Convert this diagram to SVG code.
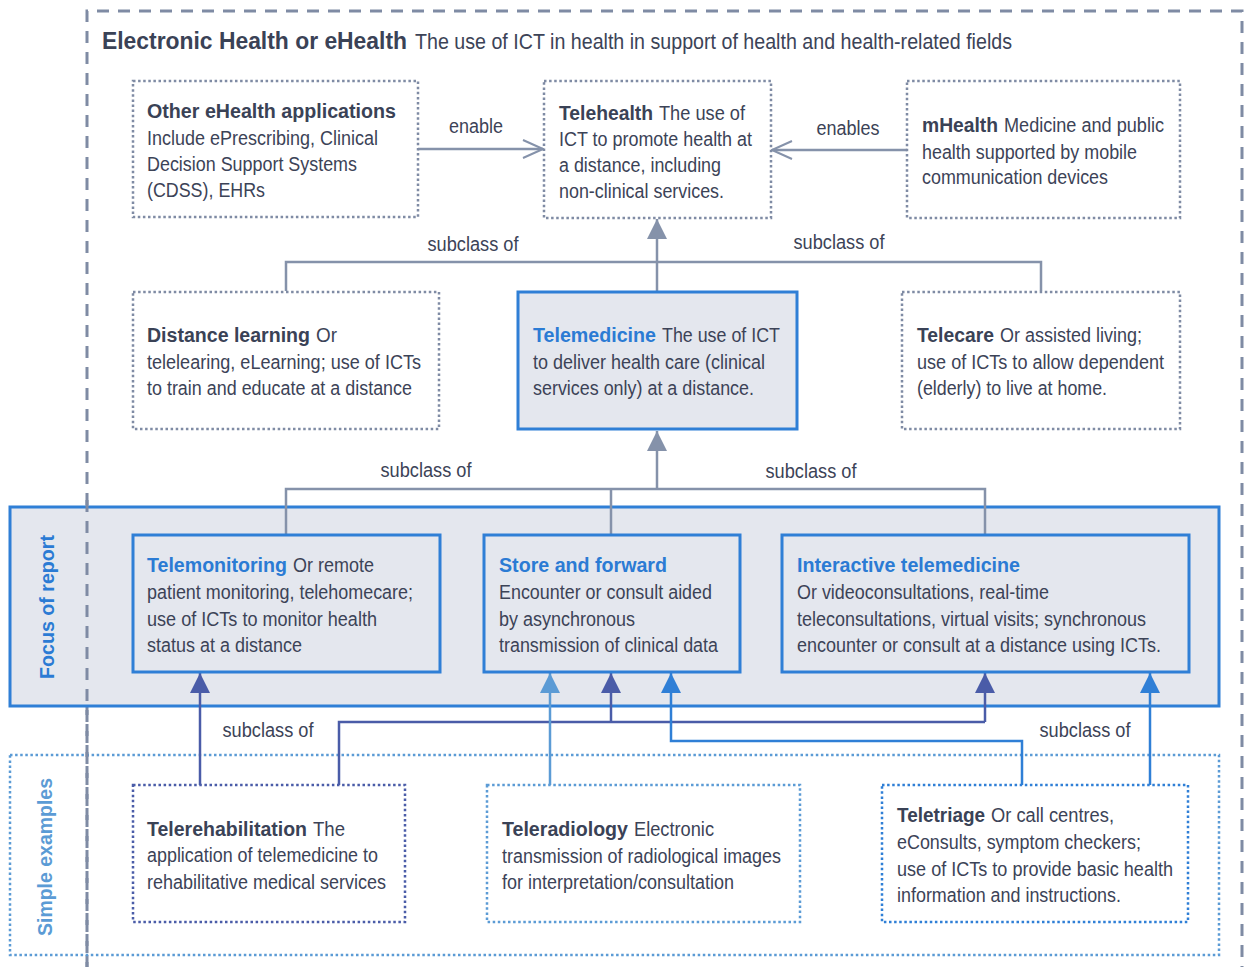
<svg xmlns="http://www.w3.org/2000/svg" width="1245" height="967" viewBox="0 0 1245 967">
<defs>
<style>
text{font-family:"Liberation Sans",Arial,sans-serif;font-size:20px;fill:#3c4357;}
.b{font-weight:bold;fill:#3a4256;}
.bb{font-weight:bold;fill:#2b7bd4;}
.lbl{font-size:20px;}
.dot{fill:#fff;stroke:#7f8ba4;stroke-width:2.5;stroke-dasharray:2.5 2.6;}
.solid{fill:#e4e7ee;stroke:#2f7fd6;stroke-width:3;}
.c{fill:none;stroke-width:2.5;}
.g{stroke:#8592aa;}
.db{stroke:#4a5ca8;}
.lb{stroke:#5b9bd5;}
.bl{stroke:#2f7fd6;}
</style>
<marker id="tg" viewBox="0 0 20 20" refX="20" refY="10" markerWidth="20" markerHeight="20" markerUnits="userSpaceOnUse" orient="auto"><path d="M0,0 L20,10 L0,20 Z" fill="#8592aa"/></marker>
<marker id="tdb" viewBox="0 0 20 20" refX="20" refY="10" markerWidth="20" markerHeight="20" markerUnits="userSpaceOnUse" orient="auto"><path d="M0,0 L20,10 L0,20 Z" fill="#4a5ca8"/></marker>
<marker id="tlb" viewBox="0 0 20 20" refX="20" refY="10" markerWidth="20" markerHeight="20" markerUnits="userSpaceOnUse" orient="auto"><path d="M0,0 L20,10 L0,20 Z" fill="#5b9bd5"/></marker>
<marker id="tbl" viewBox="0 0 20 20" refX="20" refY="10" markerWidth="20" markerHeight="20" markerUnits="userSpaceOnUse" orient="auto"><path d="M0,0 L20,10 L0,20 Z" fill="#2f7fd6"/></marker>
<marker id="ch" viewBox="0 0 24 24" refX="22" refY="12" markerWidth="24" markerHeight="24" markerUnits="userSpaceOnUse" orient="auto"><path d="M2,3 L22,12 L2,21" fill="none" stroke="#8592aa" stroke-width="2"/></marker>
</defs>
<rect width="1245" height="967" fill="#fff"/>

<!-- outer eHealth frame -->
<g id="ehealth-frame">
<path d="M87,967 V11 H1242 V967" fill="none" stroke="#7f8ba4" stroke-width="3" stroke-dasharray="12 9"/>
<text x="102" y="49" class="b" style="font-size:24px" textLength="305" lengthAdjust="spacingAndGlyphs">Electronic Health or eHealth</text>
<text x="415" y="49" style="font-size:22px" textLength="597" lengthAdjust="spacingAndGlyphs">The use of ICT in health in support of health and health-related fields</text>
</g>

<!-- bands -->
<g id="focus-band">
<rect x="10" y="507" width="1209" height="199" class="solid"/>
<text transform="translate(54,607) rotate(-90)" text-anchor="middle" class="bb" textLength="144" lengthAdjust="spacingAndGlyphs">Focus of report</text>
</g>
<g id="examples-band">
<rect x="10" y="755" width="1209" height="200" fill="none" stroke="#5b9bd5" stroke-width="2.5" stroke-dasharray="2.5 2.6"/>
<text transform="translate(52,857) rotate(-90)" text-anchor="middle" class="bb" style="fill:#5b9bd5" textLength="158" lengthAdjust="spacingAndGlyphs">Simple examples</text>
</g>
<path d="M87,500 V967" fill="none" stroke="#7f8ba4" stroke-width="3" stroke-dasharray="12 9"/>

<!-- connectors -->
<g id="connectors">
<path class="c g" d="M418,149 H543" marker-end="url(#ch)"/>
<path class="c g" d="M907,150 H772" marker-end="url(#ch)"/>
<text x="476" y="133" text-anchor="middle" class="lbl" textLength="54" lengthAdjust="spacingAndGlyphs">enable</text>
<text x="848" y="135" text-anchor="middle" class="lbl" textLength="63" lengthAdjust="spacingAndGlyphs">enables</text>

<path class="c g" d="M657,291 V219" marker-end="url(#tg)"/>
<path class="c g" d="M286,291 V262 H1041 V291"/>
<text x="473" y="251" text-anchor="middle" class="lbl" textLength="91" lengthAdjust="spacingAndGlyphs">subclass of</text>
<text x="839" y="249" text-anchor="middle" class="lbl" textLength="91" lengthAdjust="spacingAndGlyphs">subclass of</text>

<path class="c g" d="M657,489 V431" marker-end="url(#tg)"/>
<path class="c g" d="M286,535 V489 H985 V535 M611,489 V535"/>
<text x="426" y="477" text-anchor="middle" class="lbl" textLength="91" lengthAdjust="spacingAndGlyphs">subclass of</text>
<text x="811" y="478" text-anchor="middle" class="lbl" textLength="91" lengthAdjust="spacingAndGlyphs">subclass of</text>

<path class="c db" d="M200,785 V673" marker-end="url(#tdb)"/>
<path class="c db" d="M339,785 V722 H985"/>
<path class="c db" d="M611,722 V673" marker-end="url(#tdb)"/>
<path class="c db" d="M985,722 V673" marker-end="url(#tdb)"/>
<path class="c lb" d="M550,785 V673" marker-end="url(#tlb)"/>
<path class="c bl" d="M1022,785 V741 H671 V673" marker-end="url(#tbl)"/>
<path class="c bl" d="M1150,785 V673" marker-end="url(#tbl)"/>
<text x="268" y="737" text-anchor="middle" class="lbl" textLength="91" lengthAdjust="spacingAndGlyphs">subclass of</text>
<text x="1085" y="737" text-anchor="middle" class="lbl" textLength="91" lengthAdjust="spacingAndGlyphs">subclass of</text>
</g>

<!-- row 1 -->
<g id="other-ehealth">
<rect x="133" y="81" width="285" height="136" class="dot"/>
<text x="147" y="118" class="b" textLength="249" lengthAdjust="spacingAndGlyphs">Other eHealth applications</text>
<text x="147" y="145" textLength="231" lengthAdjust="spacingAndGlyphs">Include ePrescribing, Clinical</text>
<text x="147" y="171" textLength="210" lengthAdjust="spacingAndGlyphs">Decision Support Systems</text>
<text x="147" y="197" textLength="118" lengthAdjust="spacingAndGlyphs">(CDSS), EHRs</text>
</g>
<g id="telehealth">
<rect x="544" y="81" width="227" height="137" class="dot"/>
<text x="559" y="120" class="b" textLength="94" lengthAdjust="spacingAndGlyphs">Telehealth</text>
<text x="659" y="120" textLength="86" lengthAdjust="spacingAndGlyphs">The use of</text>
<text x="559" y="146" textLength="193" lengthAdjust="spacingAndGlyphs">ICT to promote health at</text>
<text x="559" y="172" textLength="162" lengthAdjust="spacingAndGlyphs">a distance, including</text>
<text x="559" y="198" textLength="165" lengthAdjust="spacingAndGlyphs">non-clinical services.</text>
</g>
<g id="mhealth">
<rect x="907" y="81" width="273" height="137" class="dot"/>
<text x="922" y="132" class="b" textLength="76" lengthAdjust="spacingAndGlyphs">mHealth</text>
<text x="1004" y="132" textLength="160" lengthAdjust="spacingAndGlyphs">Medicine and public</text>
<text x="922" y="159" textLength="215" lengthAdjust="spacingAndGlyphs">health supported by mobile</text>
<text x="922" y="184" textLength="186" lengthAdjust="spacingAndGlyphs">communication devices</text>
</g>

<!-- row 2 -->
<g id="distance-learning">
<rect x="133" y="292" width="306" height="137" class="dot"/>
<text x="147" y="342" class="b" textLength="163" lengthAdjust="spacingAndGlyphs">Distance learning</text>
<text x="316" y="342" textLength="21" lengthAdjust="spacingAndGlyphs">Or</text>
<text x="147" y="369" textLength="274" lengthAdjust="spacingAndGlyphs">telelearing, eLearning; use of ICTs</text>
<text x="147" y="395" textLength="265" lengthAdjust="spacingAndGlyphs">to train and educate at a distance</text>
</g>
<g id="telemedicine">
<rect x="518" y="292" width="279" height="137" class="solid"/>
<text x="533" y="342" class="bb" textLength="123" lengthAdjust="spacingAndGlyphs">Telemedicine</text>
<text x="662" y="342" textLength="118" lengthAdjust="spacingAndGlyphs">The use of ICT</text>
<text x="533" y="369" textLength="232" lengthAdjust="spacingAndGlyphs">to deliver health care (clinical</text>
<text x="533" y="395" textLength="221" lengthAdjust="spacingAndGlyphs">services only) at a distance.</text>
</g>
<g id="telecare">
<rect x="902" y="292" width="278" height="137" class="dot"/>
<text x="917" y="342" class="b" textLength="77" lengthAdjust="spacingAndGlyphs">Telecare</text>
<text x="1000" y="342" textLength="142" lengthAdjust="spacingAndGlyphs">Or assisted living;</text>
<text x="917" y="369" textLength="247" lengthAdjust="spacingAndGlyphs">use of ICTs to allow dependent</text>
<text x="917" y="395" textLength="190" lengthAdjust="spacingAndGlyphs">(elderly) to live at home.</text>
</g>

<!-- row 3: focus -->
<g id="telemonitoring">
<rect x="133" y="535" width="307" height="137" class="solid"/>
<text x="147" y="572" class="bb" textLength="140" lengthAdjust="spacingAndGlyphs">Telemonitoring</text>
<text x="293" y="572" textLength="81" lengthAdjust="spacingAndGlyphs">Or remote</text>
<text x="147" y="599" textLength="266" lengthAdjust="spacingAndGlyphs">patient monitoring, telehomecare;</text>
<text x="147" y="626" textLength="230" lengthAdjust="spacingAndGlyphs">use of ICTs to monitor health</text>
<text x="147" y="652" textLength="155" lengthAdjust="spacingAndGlyphs">status at a distance</text>
</g>
<g id="store-and-forward">
<rect x="484" y="535" width="256" height="137" class="solid"/>
<text x="499" y="572" class="bb" textLength="168" lengthAdjust="spacingAndGlyphs">Store and forward</text>
<text x="499" y="599" textLength="213" lengthAdjust="spacingAndGlyphs">Encounter or consult aided</text>
<text x="499" y="626" textLength="136" lengthAdjust="spacingAndGlyphs">by asynchronous</text>
<text x="499" y="652" textLength="219" lengthAdjust="spacingAndGlyphs">transmission of clinical data</text>
</g>
<g id="interactive-telemedicine">
<rect x="782" y="535" width="407" height="137" class="solid"/>
<text x="797" y="572" class="bb" textLength="223" lengthAdjust="spacingAndGlyphs">Interactive telemedicine</text>
<text x="797" y="599" textLength="252" lengthAdjust="spacingAndGlyphs">Or videoconsultations, real-time</text>
<text x="797" y="626" textLength="349" lengthAdjust="spacingAndGlyphs">teleconsultations, virtual visits; synchronous</text>
<text x="797" y="652" textLength="364" lengthAdjust="spacingAndGlyphs">encounter or consult at a distance using ICTs.</text>
</g>

<!-- row 4: examples -->
<g id="telerehabilitation">
<rect x="133" y="785" width="272" height="137" class="dot" style="stroke:#4a5ca8"/>
<text x="147" y="836" class="b" textLength="160" lengthAdjust="spacingAndGlyphs">Telerehabilitation</text>
<text x="313" y="836" textLength="32" lengthAdjust="spacingAndGlyphs">The</text>
<text x="147" y="862" textLength="231" lengthAdjust="spacingAndGlyphs">application of telemedicine to</text>
<text x="147" y="889" textLength="239" lengthAdjust="spacingAndGlyphs">rehabilitative medical services</text>
</g>
<g id="teleradiology">
<rect x="487" y="785" width="313" height="137" class="dot" style="stroke:#5b9bd5"/>
<text x="502" y="836" class="b" textLength="126" lengthAdjust="spacingAndGlyphs">Teleradiology</text>
<text x="634" y="836" textLength="80" lengthAdjust="spacingAndGlyphs">Electronic</text>
<text x="502" y="863" textLength="279" lengthAdjust="spacingAndGlyphs">transmission of radiological images</text>
<text x="502" y="889" textLength="232" lengthAdjust="spacingAndGlyphs">for interpretation/consultation</text>
</g>
<g id="teletriage">
<rect x="882" y="785" width="306" height="137" class="dot" style="stroke:#2f7fd6"/>
<text x="897" y="822" class="b" textLength="88" lengthAdjust="spacingAndGlyphs">Teletriage</text>
<text x="991" y="822" textLength="123" lengthAdjust="spacingAndGlyphs">Or call centres,</text>
<text x="897" y="849" textLength="244" lengthAdjust="spacingAndGlyphs">eConsults, symptom checkers;</text>
<text x="897" y="876" textLength="276" lengthAdjust="spacingAndGlyphs">use of ICTs to provide basic health</text>
<text x="897" y="902" textLength="224" lengthAdjust="spacingAndGlyphs">information and instructions.</text>
</g>
</svg>
